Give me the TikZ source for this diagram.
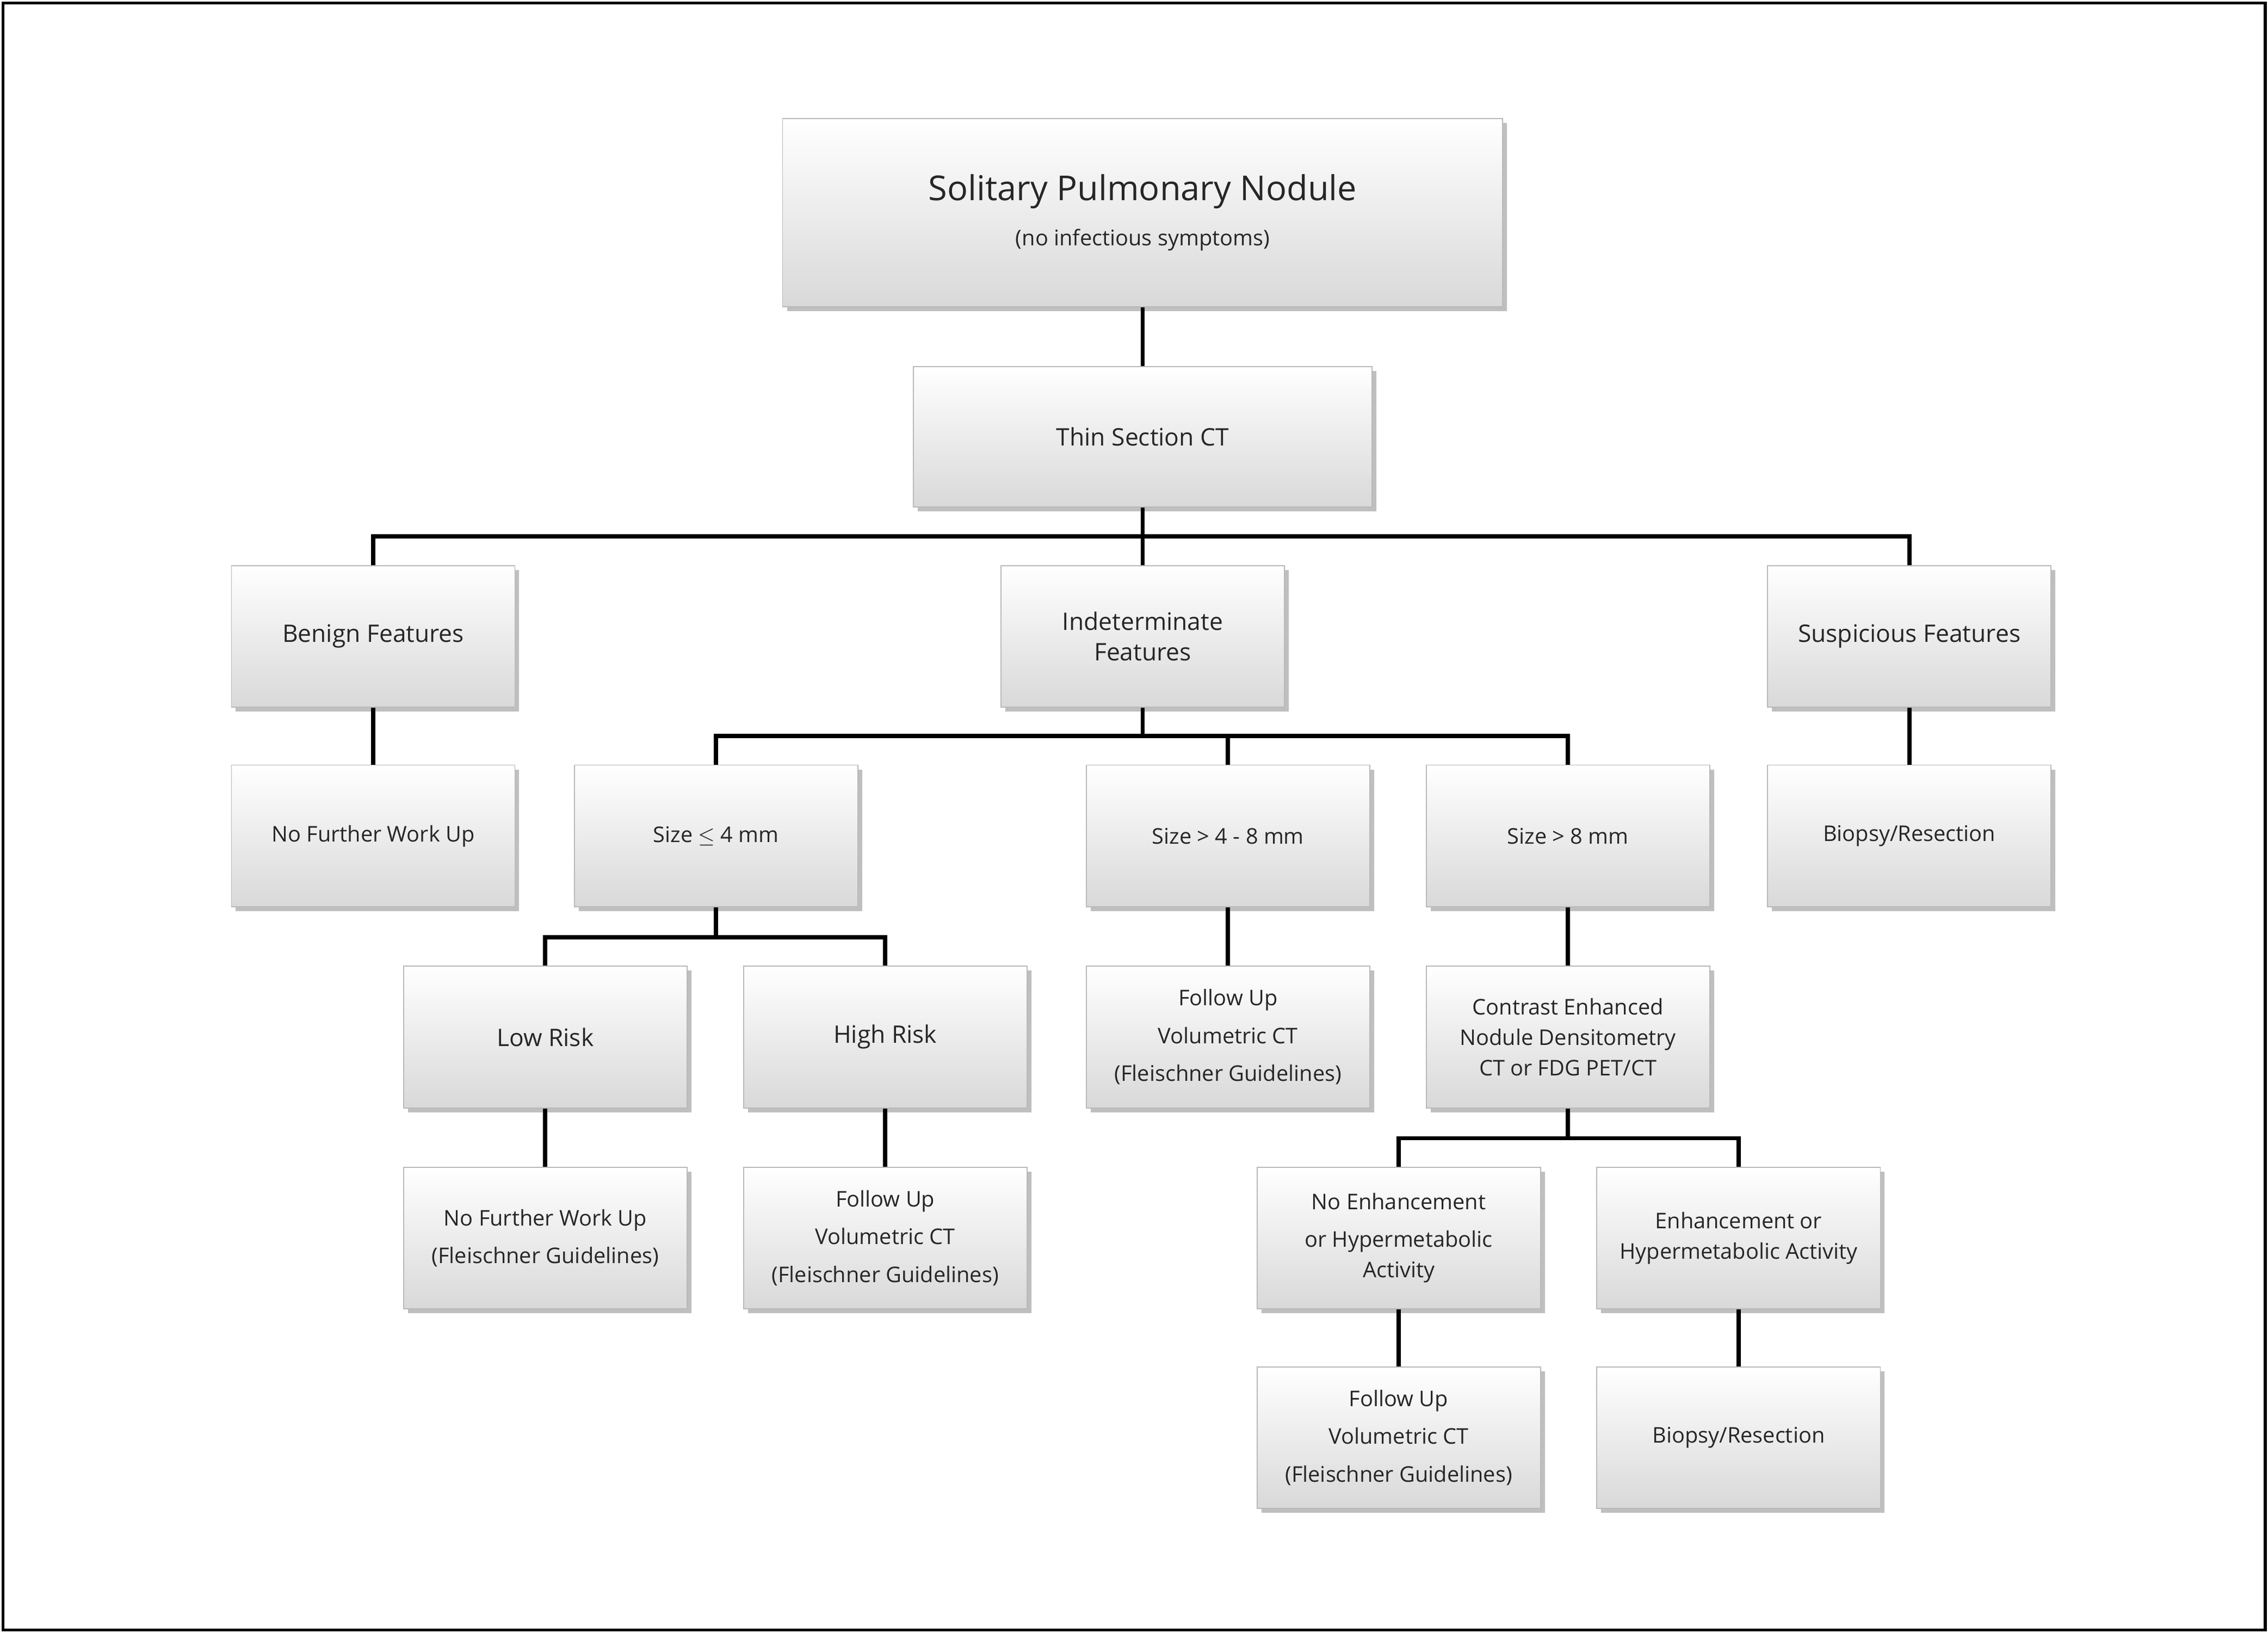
\documentclass[tikz,border=0pt]{standalone}
\usepackage{fontspec}
\setmainfont{Open Sans}
\usetikzlibrary{shadows, calc, positioning}
\tikzstyle{block} = [rectangle, draw=gray!55, top color=white, bottom color=gray!30, minimum width=3.92cm, minimum height=1.96cm, align=center, font=\fontsize{8.5}{12}\selectfont, text=black!85, drop shadow={shadow xshift=0.6mm, shadow yshift=-0.6mm, opacity=0.5}]
\tikzstyle{link} = [line width=1.7pt, black]
\begin{document}
\begin{tikzpicture}[x=0.02cm, y=-0.02cm]
		\useasboundingbox (0,0) rectangle (1568,1129);
		\draw [line width=1.2pt] (2,2) rectangle (1566,1127);
		% level 0 and 1
		\node (Nodule) [block, minimum width=9.96cm, minimum height=2.6cm] at (790,147) {{\fontsize{13.5}{16}\selectfont Solitary Pulmonary Nodule}\\[2mm] (no infectious symptoms)};
		\node (Thin) [block, minimum width=6.34cm, minimum height=1.94cm, font=\fontsize{9.5}{12}\selectfont] at (790,302) {Thin Section CT};
		% features
		\node (Benign) [block, font=\fontsize{9.5}{12}\selectfont] at (258,440) {Benign Features};
		\node (Indet) [block, font=\fontsize{9.5}{12}\selectfont] at (790,440) {Indeterminate\\Features};
		\node (Susp) [block, font=\fontsize{9.5}{12}\selectfont] at (1320,440) {Suspicious Features};
		% sizes
		\node (NoWork) [block] at (258,578) {No Further Work Up};
		\node (Small) [block] at (495,578) {Size $\leq$ 4 mm};
		\node (Mid) [block] at (849,578) {Size \textgreater{} 4 - 8 mm};
		\node (Large) [block] at (1084,578) {Size \textgreater{} 8 mm};
		\node (BiopsyA) [block] at (1320,578) {Biopsy/Resection};
		% risk
		\node (Low) [block, font=\fontsize{9.5}{12}\selectfont] at (377,717) {Low Risk};
		\node (High) [block, font=\fontsize{9.5}{12}\selectfont] at (612,717) {High Risk};
		\node (FollowMid) [block, align=center] at (849,717) {Follow Up\\[1mm]Volumetric CT\\[1mm](Fleischner Guidelines)};
		\node (Contrast) [block] at (1084,717) {Contrast Enhanced\\Nodule Densitometry\\CT or FDG PET/CT};
		% outcomes
		\node (NoWorkLow) [block] at (377,856) {No Further Work Up\\[1mm](Fleischner Guidelines)};
		\node (FollowHigh) [block] at (612,856) {Follow Up\\[1mm]Volumetric CT\\[1mm](Fleischner Guidelines)};
		\node (NoEnh) [block] at (967,856) {No Enhancement\\[1mm]or Hypermetabolic\\Activity};
		\node (Enh) [block] at (1202,856) {Enhancement or\\Hypermetabolic Activity};
		\node (FollowNo) [block] at (967,994) {Follow Up\\[1mm]Volumetric CT\\[1mm](Fleischner Guidelines)};
		\node (BiopsyB) [block] at (1202,994) {Biopsy/Resection};
		% split points
		\coordinate (SplitA) at (790,371);
		\coordinate (SplitB) at (790,509);
		\coordinate (SplitC) at (495,648);
		\coordinate (SplitD) at (1084,787);
		% connectors
		\draw [link] (Nodule) -- (Thin);
		\draw [link] (Thin) -- (Indet);
		\draw [link] (Benign.north) |- (SplitA) -| (Susp.north);
		\draw [link] (Indet.south) -- (SplitB);
		\draw [link] (Small.north) |- (SplitB) -| (Large.north);
		\draw [link] (Mid.north |- SplitB) -- (Mid.north);
		\draw [link] (Benign) -- (NoWork);
		\draw [link] (Susp) -- (BiopsyA);
		\draw [link] (Small.south) -- (SplitC);
		\draw [link] (Low.north) |- (SplitC) -| (High.north);
		\draw [link] (Mid) -- (FollowMid);
		\draw [link] (Large) -- (Contrast);
		\draw [link] (Low) -- (NoWorkLow);
		\draw [link] (High) -- (FollowHigh);
		\draw [link] (Contrast.south) -- (SplitD);
		\draw [link] (NoEnh.north) |- (SplitD) -| (Enh.north);
		\draw [link] (NoEnh) -- (FollowNo);
		\draw [link] (Enh) -- (BiopsyB);
\end{tikzpicture}
\end{document}
